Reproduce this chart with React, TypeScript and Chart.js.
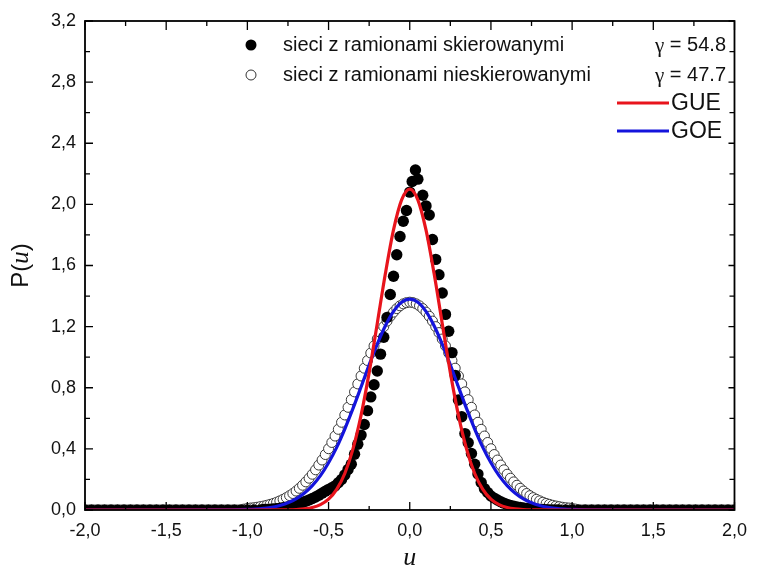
import React, { useEffect, useRef } from "react";
import { Chart, registerables } from "chart.js";

Chart.register(...registerables);

// ---- data (u, P(u)) ----
const X_TICKS = [-2.0, -1.5, -1.0, -0.5, 0.0, 0.5, 1.0, 1.5, 2.0];
const Y_TICKS = [0.0, 0.4, 0.8, 1.2, 1.6, 2.0, 2.4, 2.8, 3.2];

// sieci z ramionami skierowanymi (filled circles)
const DIRECTED: [number, number][] = [
  [-2.0, 0], [-1.96, 0], [-1.92, 0], [-1.88, 0], [-1.84, 0], [-1.8, 0], [-1.76, 0], [-1.72, 0],
  [-1.68, 0], [-1.64, 0], [-1.6, 0], [-1.56, 0], [-1.52, 0], [-1.48, 0], [-1.44, 0], [-1.4, 0],
  [-1.36, 0], [-1.32, 0], [-1.28, 0], [-1.24, 0], [-1.2, 0], [-1.16, 0], [-1.12, 0], [-1.08, 0],
  [-1.04, 0], [-1.0, 0], [-0.96, 0], [-0.92, 0],
  [-0.9, 0.003], [-0.88, 0.004], [-0.86, 0.005], [-0.84, 0.007], [-0.82, 0.009], [-0.8, 0.012],
  [-0.78, 0.015], [-0.76, 0.019], [-0.74, 0.024], [-0.72, 0.029], [-0.7, 0.035], [-0.68, 0.042],
  [-0.66, 0.05], [-0.64, 0.058], [-0.62, 0.066], [-0.6, 0.075], [-0.58, 0.085], [-0.56, 0.097],
  [-0.54, 0.11], [-0.52, 0.123], [-0.5, 0.135], [-0.48, 0.146], [-0.46, 0.158], [-0.44, 0.178],
  [-0.42, 0.2], [-0.4, 0.23], [-0.38, 0.265], [-0.36, 0.3], [-0.34, 0.365], [-0.32, 0.43],
  [-0.3, 0.49], [-0.28, 0.56], [-0.26, 0.65], [-0.24, 0.74], [-0.22, 0.82], [-0.2, 0.91],
  [-0.18, 1.02], [-0.16, 1.13], [-0.14, 1.26], [-0.12, 1.41], [-0.1, 1.53], [-0.08, 1.67],
  [-0.06, 1.79], [-0.04, 1.89], [-0.02, 1.96], [0.0, 2.08], [0.015, 2.15], [0.035, 2.225],
  [0.05, 2.165], [0.08, 2.06], [0.1, 1.99], [0.12, 1.93], [0.14, 1.77], [0.16, 1.64],
  [0.18, 1.54], [0.2, 1.42], [0.22, 1.28], [0.24, 1.17], [0.26, 1.03], [0.28, 0.88],
  [0.3, 0.72], [0.32, 0.61], [0.34, 0.5], [0.36, 0.44], [0.38, 0.37], [0.4, 0.3],
  [0.42, 0.235], [0.44, 0.18], [0.46, 0.14], [0.48, 0.115], [0.5, 0.092], [0.52, 0.078],
  [0.54, 0.065], [0.56, 0.054], [0.58, 0.045], [0.6, 0.037], [0.62, 0.03], [0.64, 0.025],
  [0.66, 0.02], [0.68, 0.016], [0.7, 0.013], [0.72, 0.01], [0.74, 0.008], [0.76, 0.006],
  [0.78, 0.005], [0.8, 0.004], [0.82, 0.003], [0.84, 0.002], [0.86, 0.001], [0.88, 0], [0.9, 0],
  [0.92, 0], [0.96, 0], [1.0, 0], [1.04, 0], [1.08, 0], [1.12, 0], [1.16, 0], [1.2, 0],
  [1.24, 0], [1.28, 0], [1.32, 0], [1.36, 0], [1.4, 0], [1.44, 0], [1.48, 0], [1.52, 0],
  [1.56, 0], [1.6, 0], [1.64, 0], [1.68, 0], [1.72, 0], [1.76, 0], [1.8, 0], [1.84, 0],
  [1.88, 0], [1.92, 0], [1.96, 0], [2.0, 0],
];

// sieci z ramionami nieskierowanymi (open circles)
const UNDIRECTED: [number, number][] = [
  [-1.98, 0], [-1.94, 0], [-1.9, 0], [-1.86, 0], [-1.82, 0], [-1.78, 0], [-1.74, 0], [-1.7, 0],
  [-1.66, 0], [-1.62, 0], [-1.58, 0], [-1.54, 0], [-1.5, 0], [-1.46, 0], [-1.42, 0], [-1.38, 0],
  [-1.34, 0], [-1.3, 0], [-1.26, 0], [-1.22, 0], [-1.18, 0], [-1.14, 0], [-1.1, 0], [-1.06, 0],
  [-1.02, 0.006],
  [-1.0, 0.01], [-0.98, 0.013], [-0.96, 0.015], [-0.94, 0.018], [-0.92, 0.022], [-0.9, 0.026],
  [-0.88, 0.031], [-0.86, 0.037], [-0.84, 0.043], [-0.82, 0.051], [-0.8, 0.06], [-0.78, 0.07],
  [-0.76, 0.081], [-0.74, 0.094], [-0.72, 0.108], [-0.7, 0.124], [-0.68, 0.142], [-0.66, 0.162],
  [-0.64, 0.184], [-0.62, 0.208], [-0.6, 0.234], [-0.58, 0.263], [-0.56, 0.294], [-0.54, 0.327],
  [-0.52, 0.363], [-0.5, 0.401], [-0.48, 0.442], [-0.46, 0.484], [-0.44, 0.528], [-0.42, 0.574],
  [-0.4, 0.622], [-0.38, 0.672], [-0.36, 0.722], [-0.34, 0.773], [-0.32, 0.825], [-0.3, 0.877],
  [-0.28, 0.928], [-0.26, 0.978], [-0.24, 1.027], [-0.22, 1.074], [-0.2, 1.119], [-0.18, 1.161],
  [-0.16, 1.2], [-0.14, 1.236], [-0.12, 1.268], [-0.1, 1.295], [-0.08, 1.318], [-0.06, 1.336],
  [-0.04, 1.349], [-0.02, 1.357], [0.0, 1.36], [0.02, 1.357], [0.04, 1.349], [0.06, 1.336],
  [0.08, 1.318], [0.1, 1.295], [0.12, 1.268], [0.14, 1.236], [0.16, 1.2], [0.18, 1.161],
  [0.2, 1.119], [0.22, 1.074], [0.24, 1.027], [0.26, 0.978], [0.28, 0.928], [0.3, 0.877],
  [0.32, 0.825], [0.34, 0.773], [0.36, 0.722], [0.38, 0.672], [0.4, 0.622], [0.42, 0.574],
  [0.44, 0.528], [0.46, 0.484], [0.48, 0.442], [0.5, 0.401], [0.52, 0.363], [0.54, 0.327],
  [0.56, 0.294], [0.58, 0.263], [0.6, 0.234], [0.62, 0.208], [0.64, 0.184], [0.66, 0.162],
  [0.68, 0.142], [0.7, 0.124], [0.72, 0.108], [0.74, 0.094], [0.76, 0.081], [0.78, 0.07],
  [0.8, 0.06], [0.82, 0.051], [0.84, 0.043], [0.86, 0.037], [0.88, 0.031], [0.9, 0.026],
  [0.92, 0.022], [0.94, 0.018], [0.96, 0.015], [0.98, 0.013], [1.0, 0.01],
  [1.02, 0.006], [1.06, 0], [1.1, 0], [1.14, 0], [1.18, 0], [1.22, 0], [1.26, 0], [1.3, 0],
  [1.34, 0], [1.38, 0], [1.42, 0], [1.46, 0], [1.5, 0], [1.54, 0], [1.58, 0], [1.62, 0],
  [1.66, 0], [1.7, 0], [1.74, 0], [1.78, 0], [1.82, 0], [1.86, 0], [1.9, 0], [1.94, 0], [1.98, 0],
];

// GUE curve
const GUE: [number, number][] = [
  [-2.0, 0], [-1.5, 0], [-1.0, 0], [-0.8, 0.0004], [-0.75, 0.001], [-0.7, 0.0027], [-0.65, 0.0068],
  [-0.6, 0.0159], [-0.55, 0.0347], [-0.5, 0.0706], [-0.45, 0.135], [-0.4, 0.239], [-0.35, 0.398],
  [-0.3, 0.619], [-0.25, 0.899], [-0.2, 1.221], [-0.15, 1.547], [-0.1, 1.833], [-0.05, 2.03],
  [0.0, 2.1], [0.05, 2.03], [0.1, 1.833], [0.15, 1.547], [0.2, 1.221], [0.25, 0.899],
  [0.3, 0.619], [0.35, 0.398], [0.4, 0.239], [0.45, 0.135], [0.5, 0.0706], [0.55, 0.0347],
  [0.6, 0.0159], [0.65, 0.0068], [0.7, 0.0027], [0.75, 0.001], [0.8, 0.0004], [1.0, 0], [1.5, 0], [2.0, 0],
];

// GOE curve
const GOE: [number, number][] = [
  [-2.0, 0], [-1.5, 0], [-1.2, 0.0002], [-1.1, 0.001], [-1.0, 0.0035], [-0.95, 0.0062], [-0.9, 0.011],
  [-0.85, 0.018], [-0.8, 0.03], [-0.75, 0.048], [-0.7, 0.073], [-0.65, 0.11], [-0.6, 0.16],
  [-0.55, 0.225], [-0.5, 0.309], [-0.45, 0.41], [-0.4, 0.53], [-0.35, 0.663], [-0.3, 0.805],
  [-0.25, 0.95], [-0.2, 1.086], [-0.15, 1.206], [-0.1, 1.3], [-0.05, 1.36], [0.0, 1.38],
  [0.05, 1.36], [0.1, 1.3], [0.15, 1.206], [0.2, 1.086], [0.25, 0.95], [0.3, 0.805],
  [0.35, 0.663], [0.4, 0.53], [0.45, 0.41], [0.5, 0.309], [0.55, 0.225], [0.6, 0.16],
  [0.65, 0.11], [0.7, 0.073], [0.75, 0.048], [0.8, 0.03], [0.85, 0.018], [0.9, 0.011],
  [0.95, 0.0062], [1.0, 0.0035], [1.1, 0.001], [1.2, 0.0002], [1.5, 0], [2.0, 0],
];

const LABEL_DIRECTED = "sieci z ramionami skierowanymi";
const LABEL_UNDIRECTED = "sieci z ramionami nieskierowanymi";
const GAMMA_DIRECTED = "54.8";
const GAMMA_UNDIRECTED = "47.7";

const RED = "#e8141c";
const BLUE = "#1414dc";
const SANS = "'Liberation Sans', Arial, sans-serif";
const SERIF = "'Liberation Serif', 'Times New Roman', serif";

const fmt = (v: number) => (Math.abs(v) < 1e-9 ? 0 : v).toFixed(1).replace(".", ",");

const decorPlugin = {
  id: "decor",
  afterDraw(chart: any) {
    const { ctx, chartArea } = chart;
    const { left, right, top, bottom } = chartArea;
    const xs = chart.scales.x;
    const ys = chart.scales.y;
    ctx.save();
    ctx.strokeStyle = "#000";
    // ticks
    ctx.lineWidth = 1.3;
    ctx.beginPath();
    for (let i = 0; i < X_TICKS.length; i++) {
      const px = xs.getPixelForValue(X_TICKS[i]);
      ctx.moveTo(px, bottom); ctx.lineTo(px, bottom - 8);
      ctx.moveTo(px, top); ctx.lineTo(px, top + 9);
      if (i < X_TICKS.length - 1) {
        const pm = xs.getPixelForValue((X_TICKS[i] + X_TICKS[i + 1]) / 2);
        ctx.moveTo(pm, bottom); ctx.lineTo(pm, bottom - 4);
        ctx.moveTo(pm, top); ctx.lineTo(pm, top + 5);
      }
    }
    for (let i = 0; i < Y_TICKS.length; i++) {
      const py = ys.getPixelForValue(Y_TICKS[i]);
      ctx.moveTo(left, py); ctx.lineTo(left + 8, py);
      ctx.moveTo(right, py); ctx.lineTo(right - 6, py);
      if (i < Y_TICKS.length - 1) {
        const pm = ys.getPixelForValue((Y_TICKS[i] + Y_TICKS[i + 1]) / 2);
        ctx.moveTo(left, pm); ctx.lineTo(left + 5, pm);
        ctx.moveTo(right, pm); ctx.lineTo(right - 5, pm);
      }
    }
    ctx.stroke();
    // frame
    ctx.lineWidth = 1.8;
    ctx.strokeRect(left, top, right - left, bottom - top);

    // axis titles
    ctx.fillStyle = "#111";
    ctx.textBaseline = "middle";
    // x title
    ctx.font = `italic 26px ${SERIF}`;
    ctx.textAlign = "center";
    ctx.fillText("u", (left + right) / 2, 558);
    // y title
    ctx.save();
    ctx.translate(21, (top + bottom) / 2);
    ctx.rotate(-Math.PI / 2);
    ctx.textAlign = "left";
    const f1 = `24px ${SANS}`;
    const f2 = `italic 25px ${SERIF}`;
    ctx.font = f1; const wP = ctx.measureText("P(").width; const wC = ctx.measureText(")").width;
    ctx.font = f2; const wU = ctx.measureText("u").width;
    let sx = -(wP + wU + wC) / 2;
    ctx.font = f1; ctx.fillText("P(", sx, 0); sx += wP;
    ctx.font = f2; ctx.fillText("u", sx, 0); sx += wU;
    ctx.font = f1; ctx.fillText(")", sx, 0);
    ctx.restore();

    // legend
    const textX = 283;
    const rightX = 726;
    const drawGammaRow = (y: number, label: string, g: string) => {
      ctx.font = `20px ${SANS}`;
      ctx.textAlign = "left";
      ctx.fillStyle = "#111";
      ctx.fillText(label, textX, y);
      const rest = " = " + g;
      const wRest = ctx.measureText(rest).width;
      ctx.textAlign = "right";
      ctx.fillText(rest, rightX, y);
      ctx.font = `21px ${SERIF}`;
      ctx.fillText("\u03b3", rightX - wRest, y + 1);
    };
    // row 1
    ctx.beginPath();
    ctx.fillStyle = "#000";
    ctx.arc(251, 45, 5.5, 0, Math.PI * 2);
    ctx.fill();
    drawGammaRow(45, LABEL_DIRECTED, GAMMA_DIRECTED);
    // row 2
    ctx.beginPath();
    ctx.fillStyle = "#fff";
    ctx.strokeStyle = "#333";
    ctx.lineWidth = 1;
    ctx.arc(251, 75, 5, 0, Math.PI * 2);
    ctx.fill();
    ctx.stroke();
    drawGammaRow(75, LABEL_UNDIRECTED, GAMMA_UNDIRECTED);
    // rows 3-4
    const lineRow = (y: number, color: string, label: string) => {
      ctx.beginPath();
      ctx.strokeStyle = color;
      ctx.lineWidth = 3;
      ctx.moveTo(617, y);
      ctx.lineTo(669, y);
      ctx.stroke();
      ctx.fillStyle = "#111";
      ctx.font = `23px ${SANS}`;
      ctx.textAlign = "left";
      ctx.fillText(label, 671, y + 1);
    };
    lineRow(103, RED, "GUE");
    lineRow(131, BLUE, "GOE");
    ctx.restore();
  },
};

export default function App() {
  const ref = useRef<HTMLCanvasElement | null>(null);
  useEffect(() => {
    if (!ref.current) return;
    const toXY = (arr: [number, number][]) => arr.map(([u, p]) => ({ x: u, y: p }));
    const chart = new Chart(ref.current, {
      type: "scatter",
      data: {
        datasets: [
          {
            label: "GUE",
            data: toXY(GUE),
            showLine: true,
            borderColor: RED,
            borderWidth: 3.2,
            pointRadius: 0,
            cubicInterpolationMode: "monotone",
            order: 0,
          } as any,
          {
            label: "GOE",
            data: toXY(GOE),
            showLine: true,
            borderColor: BLUE,
            borderWidth: 3.2,
            pointRadius: 0,
            cubicInterpolationMode: "monotone",
            order: 1,
          } as any,
          {
            label: LABEL_DIRECTED,
            data: toXY(DIRECTED),
            showLine: false,
            pointRadius: 5.7,
            pointBackgroundColor: "#000",
            pointBorderColor: "#000",
            pointBorderWidth: 0,
            borderWidth: 0,
            order: 2,
          } as any,
          {
            label: LABEL_UNDIRECTED,
            data: toXY(UNDIRECTED),
            showLine: false,
            pointRadius: 5,
            pointBackgroundColor: "#fff",
            pointBorderColor: "#3a3a3a",
            pointBorderWidth: 1,
            borderWidth: 1,
            order: 3,
          } as any,
        ],
      },
      options: {
        responsive: false,
        animation: false,
        devicePixelRatio: 1,
        events: [],
        layout: { padding: { top: 21, right: 17, left: 0, bottom: 0 } },
        plugins: { legend: { display: false }, tooltip: { enabled: false } },
        scales: {
          x: {
            type: "linear",
            min: -2,
            max: 2,
            afterBuildTicks: (s: any) => {
              s.ticks = X_TICKS.map((v) => ({ value: v }));
            },
            afterFit: (s: any) => {
              s.height = 66;
            },
            ticks: {
              callback: (v: any) => fmt(Number(v)),
              font: { family: SANS, size: 18 },
              color: "#111",
              padding: 10,
              maxRotation: 0,
              autoSkip: false,
            },
            grid: { display: false, drawTicks: false },
            border: { display: false },
          },
          y: {
            type: "linear",
            min: 0,
            max: 3.2,
            afterBuildTicks: (s: any) => {
              s.ticks = Y_TICKS.map((v) => ({ value: v }));
            },
            afterFit: (s: any) => {
              s.width = 85;
            },
            ticks: {
              callback: (v: any) => fmt(Number(v)),
              font: { family: SANS, size: 18 },
              color: "#111",
              padding: 9,
              autoSkip: false,
            },
            grid: { display: false, drawTicks: false },
            border: { display: false },
          },
        },
      } as any,
      plugins: [decorPlugin],
    });
    return () => chart.destroy();
  }, []);
  return (
    <div style={{ position: "absolute", left: 0, top: 0, width: 757, height: 576, background: "#fff" }}>
      <canvas ref={ref} width={757} height={576} style={{ display: "block" }} />
    </div>
  );
}
